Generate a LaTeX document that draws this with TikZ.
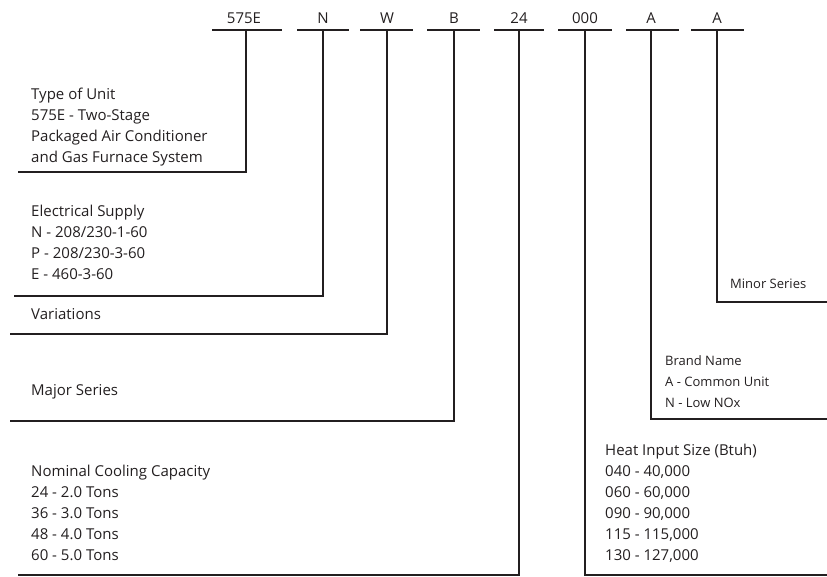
\documentclass[tikz,border=0pt]{standalone}
\usepackage{fontspec}
\setmainfont{Open Sans}
\definecolor{ink}{HTML}{231F20}
\begin{document}
\begin{tikzpicture}[x=1pt,y=-1pt,
  lbl/.style={anchor=base west,inner sep=0pt,align=left,text=ink,font=\fontsize{15}{21}\selectfont},
  small/.style={lbl,font=\fontsize{13}{21}\selectfont},
  code/.style={anchor=base,inner sep=0pt,text=ink,font=\fontsize{15}{21}\selectfont},
  ln/.style={draw=ink,line width=1.3pt}]
\useasboundingbox (0,0) rectangle (827,576);
% codes
\node[code] (c1) at (244,23) {575E};
\node[code] (c2) at (323,23) {N};
\node[code] (c3) at (387,23) {W};
\node[code] (c4) at (454,23) {B};
\node[code] (c5) at (519,23) {24};
\node[code] (c6) at (585,23) {000};
\node[code] (c7) at (651,23) {A};
\node[code] (c8) at (717,23) {A};
% bars
\draw[ln] (212,30) -- (282,30);
\draw[ln] (297,30) -- (349,30);
\draw[ln] (360,30) -- (413,30);
\draw[ln] (427,30) -- (480,30);
\draw[ln] (494,30) -- (544,30);
\draw[ln] (558,30) -- (612,30);
\draw[ln] (626,30) -- (679,30);
\draw[ln] (691,30) -- (744,30);
% stems
\coordinate (s1) at (246,30); \coordinate (e1) at (18,172);
\coordinate (s2) at (323,30); \coordinate (e2) at (14,296);
\coordinate (s3) at (387,30); \coordinate (e3) at (10,334);
\coordinate (s4) at (454,30); \coordinate (e4) at (10,421);
\coordinate (s5) at (519,30); \coordinate (e5) at (18,575);
\coordinate (s6) at (585,30); \coordinate (e6) at (827,575);
\coordinate (s7) at (651,30); \coordinate (e7) at (827,419);
\coordinate (s8) at (717,30); \coordinate (e8) at (827,302);
\foreach \i in {1,...,8}{\draw[ln] (s\i) |- (e\i);}
% labels (anchor = baseline of last line)
\node[lbl] (t1) at (31,162) {Type of Unit\\575E - Two-Stage\\Packaged Air Conditioner\\and Gas Furnace System};
\node[lbl] (t2) at (31,279) {Electrical Supply\\N - 208/230-1-60\\P - 208/230-3-60\\E - 460-3-60};
\node[lbl] (t3) at (31,319) {Variations};
\node[lbl] (t4) at (31,395) {Major Series};
\node[lbl] (t5) at (31,560) {Nominal Cooling Capacity\\24 - 2.0 Tons\\36 - 3.0 Tons\\48 - 4.0 Tons\\60 - 5.0 Tons};
\node[lbl] (t6) at (605,560) {Heat Input Size (Btuh)\\040 - 40,000\\060 - 60,000\\090 - 90,000\\115 - 115,000\\130 - 127,000};
\node[small] (t7) at (665,407) {Brand Name\\A - Common Unit\\N - Low NOx};
\node[small] (t8) at (730,288) {Minor Series};
\end{tikzpicture}
\end{document}
